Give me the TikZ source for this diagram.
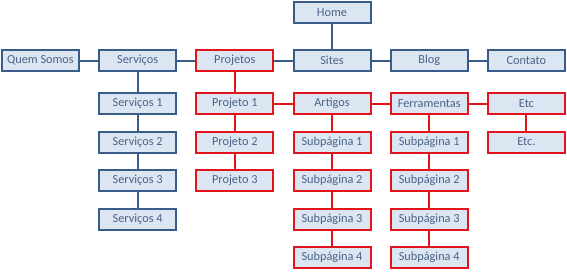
\documentclass[tikz,border=0pt]{standalone}
\usepackage{fontspec}
\setmainfont{Carlito}
\usetikzlibrary{positioning}
\definecolor{Frame}{HTML}{385D8A}
\definecolor{Hot}{HTML}{E3141B}
\definecolor{Pale}{HTML}{DCE6F2}
\definecolor{Ink}{HTML}{4A6388}

\begin{document}
\begin{tikzpicture}[node distance=15.5pt and 18.2pt,
page/.style={draw=Frame,fill=Pale,line width=2pt,minimum width=77pt,minimum height=21pt,inner sep=0pt,text=Ink,font=\fontsize{12.3}{14}\selectfont},
hot/.style={page,draw=Hot},
link/.style={line width=2pt,draw=Frame},
hotlink/.style={link,draw=Hot}]
\useasboundingbox (0,0) rectangle (567pt,-274pt);
% top level
\node[page] (home) at (332pt,-12.5pt) {Home};
\node[page,below=25pt of home] (sites) {Sites};
\node[hot,left=of sites] (proj) {Projetos};
\node[page,left=of proj] (serv) {Serviços};
\node[page,left=of serv] (quem) {Quem Somos};
\node[page,right=of sites] (blog) {Blog};
\node[page,right=of blog] (cont) {Contato};
% second level
\node[page,below=20pt of serv] (serv1) {Serviços 1};
\node[page,below=of serv1] (serv2) {Serviços 2};
\node[page,below=of serv2] (serv3) {Serviços 3};
\node[page,below=of serv3] (serv4) {Serviços 4};
\node[hot,below=20pt of proj] (proj1) {Projeto 1};
\node[hot,below=of proj1] (proj2) {Projeto 2};
\node[hot,below=of proj2] (proj3) {Projeto 3};
\node[hot,below=20pt of sites] (art) {Artigos};
\node[hot,below=of art] (art1) {Subpágina 1};
\node[hot,below=of art1] (art2) {Subpágina 2};
\node[hot,below=of art2] (art3) {Subpágina 3};
\node[hot,below=of art3] (art4) {Subpágina 4};
\node[hot,below=20pt of blog] (ferr) {Ferramentas};
\node[hot,below=of ferr] (ferr1) {Subpágina 1};
\node[hot,below=of ferr1] (ferr2) {Subpágina 2};
\node[hot,below=of ferr2] (ferr3) {Subpágina 3};
\node[hot,below=of ferr3] (ferr4) {Subpágina 4};
\node[hot,below=20pt of cont] (etc) {Etc};
\node[hot,below=of etc] (etc1) {Etc.};
% links
\draw[link] (home)--(sites);
\draw[link] (quem)--(serv);\draw[link] (serv)--(proj);\draw[link] (proj)--(sites);
\draw[link] (sites)--(blog);\draw[link] (blog)--(cont);
\draw[link] (serv)--(serv1);\draw[link] (serv1)--(serv2);\draw[link] (serv2)--(serv3);\draw[link] (serv3)--(serv4);
\draw[hotlink] (proj)--(proj1);\draw[hotlink] (proj1)--(proj2);\draw[hotlink] (proj2)--(proj3);
\draw[hotlink] (proj1)--(art);\draw[hotlink] (art)--(ferr);\draw[hotlink] (ferr)--(etc);
\draw[hotlink] (art)--(art1);\draw[hotlink] (art1)--(art2);\draw[hotlink] (art2)--(art3);\draw[hotlink] (art3)--(art4);
\draw[hotlink] (ferr)--(ferr1);\draw[hotlink] (ferr1)--(ferr2);\draw[hotlink] (ferr2)--(ferr3);\draw[hotlink] (ferr3)--(ferr4);
\draw[hotlink] (etc)--(etc1);
\end{tikzpicture}
\end{document}
